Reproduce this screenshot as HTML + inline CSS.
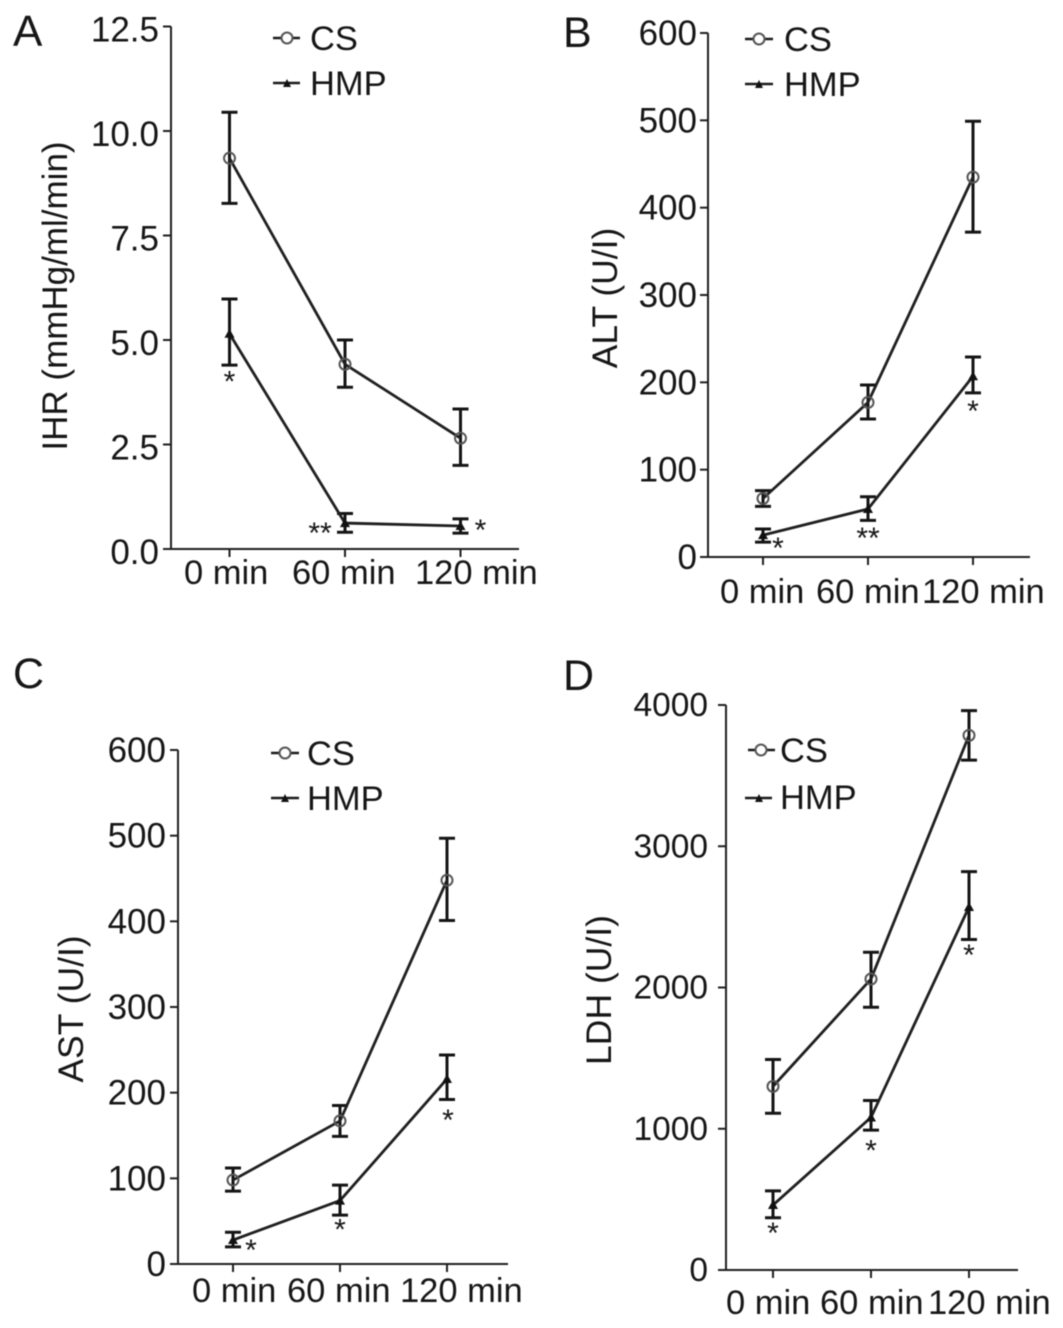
<!DOCTYPE html>
<html lang="en">
<head>
<meta charset="utf-8">
<title>IHR, ALT, AST and LDH: CS vs HMP</title>
<style>
html,body{margin:0;padding:0;background:#fff;}
svg{display:block;}
#figure text{font-family:"Liberation Sans",Arial,sans-serif;fill:#161616;}
#figure{filter:blur(0.6px);}
</style>
</head>
<body>
<svg id="figure" xmlns="http://www.w3.org/2000/svg" width="1063" height="1328" viewBox="0 0 1063 1328">
  <g id="panel-a">
    <text x="13" y="46" font-size="44">A</text>
    <text transform="translate(67,296) rotate(-90)" text-anchor="middle" font-size="35">IHR (mmHg/ml/min)</text>
    <g>
      <line x1="273" x2="300" y1="38" y2="38" stroke="#1a1a1a" stroke-width="2.5"/>
      <circle cx="287" cy="38" r="5.5" fill="#fff" stroke="#555" stroke-width="2"/>
      <text x="310" y="50" font-size="34.5">CS</text>
      <line x1="273" x2="300" y1="83" y2="83" stroke="#1a1a1a" stroke-width="2.5"/>
      <path d="M287 79 L291 87 L283 87 Z" fill="#111"/>
      <text x="310" y="95" font-size="34.5">HMP</text>
    </g>
  </g>
  <g id="panel-b">
    <text x="563" y="47" font-size="43">B</text>
    <text transform="translate(617,298) rotate(-90)" text-anchor="middle" font-size="35.5">ALT (U/I)</text>
    <g>
      <line x1="745" x2="773" y1="39" y2="39" stroke="#1a1a1a" stroke-width="2.5"/>
      <circle cx="759" cy="39" r="5.5" fill="#fff" stroke="#555" stroke-width="2"/>
      <text x="784" y="51" font-size="34.5">CS</text>
      <line x1="745" x2="773" y1="84" y2="84" stroke="#1a1a1a" stroke-width="2.5"/>
      <path d="M759 80 L763 88 L755 88 Z" fill="#111"/>
      <text x="784" y="96" font-size="34.5">HMP</text>
    </g>
  </g>
  <g id="panel-c">
    <text x="13" y="688" font-size="43">C</text>
    <text transform="translate(83,1009) rotate(-90)" text-anchor="middle" font-size="35.5">AST (U/I)</text>
    <g>
      <line x1="271" x2="299" y1="753" y2="753" stroke="#1a1a1a" stroke-width="2.5"/>
      <circle cx="285" cy="753" r="5.5" fill="#fff" stroke="#555" stroke-width="2"/>
      <text x="307" y="765" font-size="34.5">CS</text>
      <line x1="271" x2="299" y1="798" y2="798" stroke="#1a1a1a" stroke-width="2.5"/>
      <path d="M285 794 L289 802 L281 802 Z" fill="#111"/>
      <text x="307" y="810" font-size="34.5">HMP</text>
    </g>
  </g>
  <g id="panel-d">
    <text x="563" y="690" font-size="43">D</text>
    <text transform="translate(611,990) rotate(-90)" text-anchor="middle" font-size="35.5">LDH (U/I)</text>
    <g>
      <line x1="748" x2="775" y1="750" y2="750" stroke="#1a1a1a" stroke-width="2.5"/>
      <circle cx="761" cy="750" r="5.5" fill="#fff" stroke="#555" stroke-width="2"/>
      <text x="780" y="762" font-size="34.5">CS</text>
      <line x1="745" x2="772" y1="798" y2="798" stroke="#1a1a1a" stroke-width="2.5"/>
      <path d="M759 794 L763 802 L755 802 Z" fill="#111"/>
      <text x="780" y="809" font-size="34.5">HMP</text>
    </g>
  </g>
</svg>
<script>
var categories = ['0 min', '60 min', '120 min'];

var aTicks = [0, 2.5, 5, 7.5, 10, 12.5];
var aTickLabels = ['0.0', '2.5', '5.0', '7.5', '10.0', '12.5'];
var aCsMean = [9.35, 4.42, 2.65];
var aCsHigh = [10.45, 5.0, 3.35];
var aCsLow = [8.27, 3.87, 2.0];
var aHmpMean = [5.15, 0.62, 0.55];
var aHmpHigh = [5.98, 0.85, 0.72];
var aHmpLow = [4.4, 0.4, 0.38];
var aSignificance = ['*', '**', '*'];

var bTicks = [0, 100, 200, 300, 400, 500, 600];
var bTickLabels = ['0', '100', '200', '300', '400', '500', '600'];
var bCsMean = [67, 177, 435];
var bCsHigh = [76, 197, 499];
var bCsLow = [58, 158, 372];
var bHmpMean = [25, 55, 207];
var bHmpHigh = [32, 69, 229];
var bHmpLow = [17, 42, 188];
var bSignificance = ['*', '**', '*'];

var cTicks = [0, 100, 200, 300, 400, 500, 600];
var cTickLabels = ['0', '100', '200', '300', '400', '500', '600'];
var cCsMean = [98, 167, 448];
var cCsHigh = [112, 185, 497];
var cCsLow = [85, 149, 401];
var cHmpMean = [28, 74, 216];
var cHmpHigh = [37, 92, 244];
var cHmpLow = [20, 57, 192];
var cSignificance = ['*', '*', '*'];

var dTicks = [0, 1000, 2000, 3000, 4000];
var dTickLabels = ['0', '1000', '2000', '3000', '4000'];
var dCsMean = [1300, 2060, 3785];
var dCsHigh = [1490, 2250, 3960];
var dCsLow = [1110, 1860, 3610];
var dHmpMean = [460, 1080, 2570];
var dHmpHigh = [560, 1200, 2820];
var dHmpLow = [370, 990, 2340];
var dSignificance = ['*', '*', '*'];

var SVG_NS = 'http://www.w3.org/2000/svg';
var INK = '#1f1f1f';

function shape(parent, tag, props) {
  var el = document.createElementNS(SVG_NS, tag);
  for (var k in props) { el.setAttribute(k, props[k]); }
  parent.appendChild(el);
  return el;
}

function drawPanel(id, box, ticks, tickLabels, cs, hmp, significance) {
  var root = document.getElementById(id);
  var yMax = ticks[ticks.length - 1];
  function yScale(v) { return box.bottom - (v / yMax) * (box.bottom - box.top); }
  function xScale(i) { return box.xStart + i * box.xStep; }
  var el;

  el = shape(root, 'line', { x1: box.axisX, x2: box.axisX, y1: box.top, y2: box.bottom, stroke: INK, 'stroke-width': 2 });
  
  
  el = shape(root, 'line', { x1: box.axisX - 8, x2: box.axisEnd, y1: box.bottom, y2: box.bottom, stroke: INK, 'stroke-width': 2 });
  
  

  ticks.forEach(function (t, i) {
    var y = yScale(t);
    var tick = shape(root, 'line', { x1: box.axisX - 8, x2: box.axisX, y1: y, y2: y, stroke: INK, 'stroke-width': 2 });
    
    
    var label = shape(root, 'text', { x: box.axisX - box.labelGap, y: y + box.labelDrop, 'text-anchor': 'end', 'font-size': box.yFont });
    label.textContent = tickLabels[i];
    
    
  });

  categories.forEach(function (c, i) {
    var x = xScale(i);
    var tick = shape(root, 'line', { x1: x, x2: x, y1: box.bottom, y2: box.bottom + 8, stroke: INK, 'stroke-width': 2 });
    
    
    var label = shape(root, 'text', { x: box.labelLeft[i], y: box.labelBase, 'font-size': 34.5 });
    label.textContent = c;
    
    
  });

  function drawErrors(series, name) {
    series.mean.forEach(function (m, i) {
      var x = xScale(i);
      var yh = yScale(series.high[i]);
      var yl = yScale(series.low[i]);
      var bar = shape(root, 'path', {
        d: 'M' + (x - 8) + ' ' + yh + 'H' + (x + 8) + 'M' + x + ' ' + yh + 'V' + yl + 'M' + (x - 8) + ' ' + yl + 'H' + (x + 8),
        fill: 'none', stroke: '#141414', 'stroke-width': 3
      });
      
      
    });
  }

  function drawLine(series, name) {
    var d = series.mean.map(function (m, i) {
      return (i ? 'L' : 'M') + xScale(i) + ' ' + yScale(m);
    }).join(' ');
    var line = shape(root, 'path', { d: d, fill: 'none', stroke: INK, 'stroke-width': 2.8 });
    
    
  }

  drawErrors(cs, 'cs');
  drawErrors(hmp, 'hmp');
  drawLine(cs, 'cs');
  drawLine(hmp, 'hmp');

  cs.mean.forEach(function (m, i) {
    var dot = shape(root, 'circle', { cx: xScale(i), cy: yScale(m), r: 5.5, fill: 'none', stroke: '#555', 'stroke-width': 2 });
    
    
  });

  hmp.mean.forEach(function (m, i) {
    var x = xScale(i);
    var y = yScale(m);
    var tri = shape(root, 'path', { d: 'M' + x + ' ' + (y - 5) + 'L' + (x + 5) + ' ' + (y + 4) + 'L' + (x - 5) + ' ' + (y + 4) + 'Z', fill: '#111' });
    
    
  });

  significance.forEach(function (s, i) {
    var star = shape(root, 'text', {
      x: xScale(i) + box.starOffset[i][0],
      y: yScale(hmp.mean[i]) + box.starOffset[i][1] + 13,
      'text-anchor': 'middle', 'font-size': 30
    });
    star.textContent = s;
    
    
  });
}

drawPanel('panel-a',
  { axisX: 171, axisEnd: 519, top: 26.5, bottom: 549, xStart: 229.5, xStep: 115.5, yFont: 35, labelGap: 12, labelDrop: 15,
    labelLeft: [184, 292, 415], labelBase: 584, starOffset: [[0, 45], [-25, 7], [20, 1]] },
  aTicks, aTickLabels,
  { mean: aCsMean, high: aCsHigh, low: aCsLow },
  { mean: aHmpMean, high: aHmpHigh, low: aHmpLow },
  aSignificance);

drawPanel('panel-b',
  { axisX: 708, axisEnd: 1030, top: 33, bottom: 557, xStart: 763, xStep: 105, yFont: 35, labelGap: 11, labelDrop: 12,
    labelLeft: [720, 816, 922], labelBase: 603, starOffset: [[15, 10], [0, 26], [0, 32]] },
  bTicks, bTickLabels,
  { mean: bCsMean, high: bCsHigh, low: bCsLow },
  { mean: bHmpMean, high: bHmpHigh, low: bHmpLow },
  bSignificance);

drawPanel('panel-c',
  { axisX: 178, axisEnd: 508, top: 750, bottom: 1264, xStart: 233, xStep: 107, yFont: 35, labelGap: 12, labelDrop: 12,
    labelLeft: [192, 287, 400], labelBase: 1302, starOffset: [[18, 7], [0, 26], [1, 38]] },
  cTicks, cTickLabels,
  { mean: cCsMean, high: cCsHigh, low: cCsLow },
  { mean: cHmpMean, high: cHmpHigh, low: cHmpLow },
  cSignificance);

drawPanel('panel-d',
  { axisX: 726, axisEnd: 1018, top: 705, bottom: 1270, xStart: 773, xStep: 98, yFont: 33.5, labelGap: 18, labelDrop: 11,
    labelLeft: [726, 820, 928], labelBase: 1314, starOffset: [[0, 25], [0, 30], [0, 45]] },
  dTicks, dTickLabels,
  { mean: dCsMean, high: dCsHigh, low: dCsLow },
  { mean: dHmpMean, high: dHmpHigh, low: dHmpLow },
  dSignificance);
</script>
</body>
</html>
